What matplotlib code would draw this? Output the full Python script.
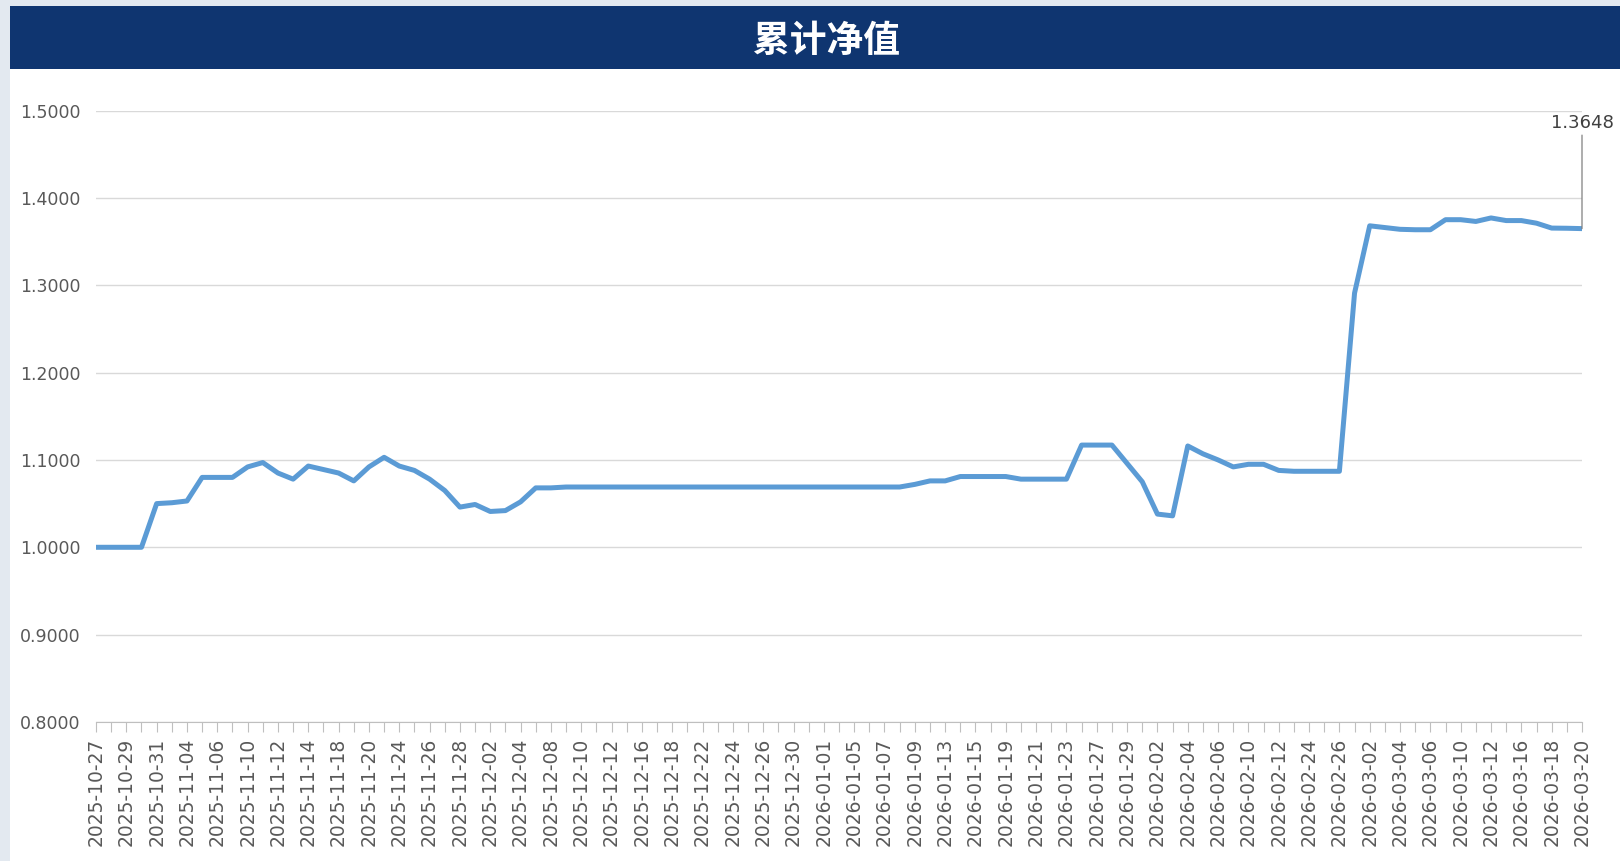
'''cumulative NAV line chart (累计净值)'''
import matplotlib
matplotlib.use('Agg')
import matplotlib.pyplot as plt
import numpy as np
import pandas as pd
from matplotlib.patches import Rectangle

plt.rcParams['font.family'] = ['DejaVu Sans', 'Noto Sans CJK SC']

# trading dates (weekdays, Spring Festival closed 02-16 .. 02-23)
dates = pd.bdate_range('2025-10-27', '2026-03-20')
dates = dates[(dates < '2026-02-16') | (dates > '2026-02-23')]
labels = [d.strftime('%Y-%m-%d') for d in dates]

nav = [1.0000, 1.0000, 1.0000, 1.0000,
       1.050, 1.051, 1.053, 1.080, 1.080, 1.080, 1.092, 1.097, 1.085, 1.078,
       1.093, 1.089, 1.085, 1.076, 1.092, 1.103, 1.093, 1.088, 1.078, 1.065,
       1.046, 1.049, 1.041, 1.042, 1.052, 1.068, 1.068,
       1.069, 1.069, 1.069, 1.069, 1.069, 1.069, 1.069, 1.069, 1.069, 1.069,
       1.069, 1.069, 1.069, 1.069, 1.069, 1.069, 1.069, 1.069, 1.069, 1.069,
       1.069, 1.069, 1.069,
       1.072, 1.076, 1.076, 1.081, 1.081, 1.081, 1.081, 1.078, 1.078, 1.078,
       1.078, 1.117, 1.117, 1.117, 1.096, 1.075, 1.038, 1.036, 1.116, 1.107,
       1.100, 1.092, 1.095, 1.095, 1.088, 1.087, 1.087, 1.087, 1.087, 1.291,
       1.368, 1.366, 1.364, 1.3635, 1.3635, 1.375, 1.375, 1.373, 1.377, 1.374,
       1.374, 1.371, 1.3654, 1.3652, 1.3648]

title = '累计净值'
last_label = '1.3648'

W, H = 1620, 861
fig = plt.figure(figsize=(W / 100, H / 100), dpi=100, facecolor='#e3e9f0')

# white panel + navy title bar (behind the axes)
fig.patches.append(Rectangle((10 / W, 0), 1 - 10 / W, 1 - 69 / H, transform=fig.transFigure,
                             facecolor='white', edgecolor='none', zorder=-10))
fig.patches.append(Rectangle((10 / W, 1 - 69 / H), 1 - 10 / W, 63 / H, transform=fig.transFigure,
                             facecolor='#0f3570', edgecolor='none', zorder=-10))
fig.text(827 / W, 1 - 41 / H, title, color='white', fontsize=26.5, fontweight='bold',
         family=['Noto Sans CJK SC', 'DejaVu Sans'], ha='center', va='center')

ax = fig.add_axes([96 / W, 1 - 722 / H, (1582 - 96) / W, (722 - 110.5) / H])
ax.set_zorder(5)
ax.patch.set_alpha(0)

x = np.arange(len(nav))
ax.plot(x, nav, color='#5b9bd5', lw=3.6, solid_joinstyle='round', zorder=3)

ax.set_xlim(0, len(nav) - 1)
ax.set_ylim(0.8, 1.5)
ax.set_yticks(np.arange(0.8, 1.51, 0.1))
ax.set_yticklabels(['%.4f' % v for v in np.arange(0.8, 1.51, 0.1)], fontsize=12.5, color='#595959')
ax.grid(axis='y', color='#d9d9d9', lw=1)
ax.set_axisbelow(True)

ax.set_xticks(x)
ax.set_xticklabels([l if i % 2 == 0 else '' for i, l in enumerate(labels)],
                   rotation=90, fontsize=13.5, color='#595959')
ax.tick_params(axis='x', length=7, color='#bfbfbf', pad=4)
ax.tick_params(axis='y', length=0, pad=11)

for s in ['top', 'right', 'left']:
    ax.spines[s].set_visible(False)
ax.spines['bottom'].set_color('#bfbfbf')

ax.annotate(last_label, xy=(x[-1], nav[-1]), xytext=(x[-1], 1.475), textcoords='data',
            ha='center', va='bottom', fontsize=13, color='#404040', annotation_clip=False,
            arrowprops=dict(arrowstyle='-', color='#808080', lw=0.9, shrinkA=0, shrinkB=0))

plt.savefig('out.png', dpi=100, facecolor=fig.get_facecolor())
